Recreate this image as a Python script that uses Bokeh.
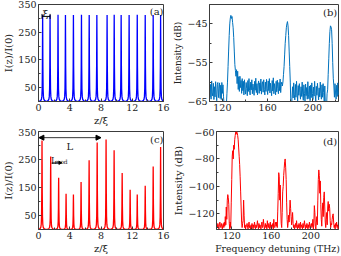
import numpy as np
from bokeh.plotting import figure
from bokeh.layouts import column, row
from bokeh.models import FixedTicker, Label, Arrow, NormalHead, TeeHead, Range1d
from bokeh.embed import file_html
from bokeh.resources import INLINE

# ---------------- data ----------------
# (a) uniform periodic peaks: positions (z/xi) and heights I(z)/I(0)
A_PEAK_Z = [0.53, 1.48, 2.50, 3.45, 4.47, 5.50, 6.49, 7.47,
            8.78, 9.69, 10.58, 11.60, 12.64, 13.66, 14.68, 15.63]
A_PEAK_I = [312, 312, 313, 312, 312, 313, 312, 312,
            312, 313, 312, 312, 313, 312, 312, 312]

# (c) modulated peaks
C_PEAK_Z = [0.45, 1.56, 2.58, 3.53, 4.47, 5.45, 6.48, 7.51,
            8.65, 9.68, 10.71, 11.73, 12.64, 13.66, 14.68, 15.63]
C_PEAK_I = [318, 261, 185, 128, 125, 170, 247, 311,
            321, 283, 202, 142, 125, 156, 225, 295]

# narrow peak line shape (relative offset in z/xi, relative height)
PROFILE_DZ = [-0.6, -0.4, -0.25, -0.15, -0.1, -0.06, -0.03, -0.015, 0.0,
              0.015, 0.03, 0.06, 0.1, 0.15, 0.25, 0.4, 0.6]
PROFILE_FRAC = [0.0017, 0.0039, 0.0099, 0.027, 0.059, 0.148, 0.41, 0.735, 1.0,
                0.735, 0.41, 0.148, 0.059, 0.027, 0.0099, 0.0039, 0.0017]

# (b) measured spectrum, detuning 108 THz .. 223 THz in 0.5 THz steps (dB)
B_START, B_STEP = 108.0, 0.5
B_DB = [
    -62, -59.8, -63.9, -60.6, -64.4, -59.7, -62.8, -63.6, -60.3, -64.5,   # 108
    -61.2, -63.8, -59.9, -63.1, -64.8, -60.6, -60.1, -64, -61.6, -60.2,   # 113
    -64.2, -60.8, -64.5, -60.1, -62.9, -60.7, -63.8, -66, -68.5, -67,     # 118
    -69, -66, -63, -60, -56, -52, -48, -45, -43.5, -42.8,                 # 123
    -43.6, -43.1, -44.6, -46, -48.5, -52, -55.5, -57, -58.5, -56.8,       # 128
    -60.4, -57.2, -61.9, -58.6, -62.4, -58.5, -61.4, -59.6, -62.9, -59.1, # 133
    -62.2, -59.8, -63.3, -59.4, -61.9, -63.1, -60.1, -61.7, -63.5, -59.6, # 138
    -62.4, -59.1, -62.2, -63.3, -60, -62, -59.4, -63, -60.5, -61.8,       # 143
    -63.4, -59.8, -62.1, -59, -62.7, -60.4, -63.3, -60.8, -59.7, -62.9,   # 148
    -60.2, -62.3, -59.2, -63.1, -60.6, -59.9, -62.6, -59.4, -61.9, -63.3, # 153
    -60, -62.4, -59.3, -61.7, -63.2, -59.7, -62.2, -59.1, -62.8, -60.3,   # 158
    -62, -63.5, -59.6, -62.3, -58.9, -63, -60.4, -61.8, -63.3, -59.8,     # 163
    -62.5, -59.5, -61.6, -63, -60.1, -62.2, -59.2, -62.7, -60.6, -60,     # 168
    -61, -60, -58, -56, -53, -50, -48, -46, -45, -44.4,                   # 173
    -45.5, -48, -52, -56, -60, -66, -68, -64, -61.2, -64.1,               # 178
    -60.2, -63.1, -64.6, -60.6, -63.9, -59.8, -62.8, -65, -60.9, -63.4,   # 183
    -60.4, -62.6, -64.4, -61.2, -63.7, -60, -63.3, -64.7, -60.7, -63,     # 188
    -64.9, -60.5, -63.5, -61.4, -64.4, -59.9, -63.1, -64.3, -61, -64.8,   # 193
    -60.8, -64, -60.2, -62.9, -64.5, -61.3, -63.6, -59.8, -63.2, -65,     # 198
    -61.1, -63.4, -60.3, -62.5, -64.6, -61.5, -63.8, -60, -63, -64.4,     # 203
    -60.7, -63.9, -60.4, -62.7, -65, -61, -66, -68, -66.5, -63,           # 208
    -62, -58, -54, -50, -47, -45.5, -45.8, -46.5, -50, -55,               # 213
    -59, -61, -63.9, -60.4, -62.8, -64.4, -60.8, -63.7, -60.2, -63.3,     # 218
    -61.5,                                                                # 223
]

# (d) simulated spectrum, detuning 105 THz .. 228 THz in 0.5 THz steps (dB)
D_START, D_STEP = 105.0, 0.5
D_DB = [
    -128, -130, -127, -129, -131, -128, -126, -129, -130, -127,   # 105
    -129, -131, -128, -127, -130, -126, -129, -122, -128, -115,   # 110
    -124, -110, -106, -108, -113, -127, -131, -126, -130, -112,   # 115
    -95, -78, -74, -80, -70, -73, -66, -63, -60.5, -62,           # 120
    -60, -61, -63, -66, -72, -78, -84, -93, -104, -115,           # 125
    -126, -130, -127, -125, -110, -121, -130, -128, -131, -129,   # 130
    -129, -127, -130, -131, -128, -126, -130, -129, -131, -128,   # 135
    -130, -127, -129, -131, -128, -130, -126, -129, -131, -128,   # 140
    -130, -128, -125, -129, -131, -127, -130, -128, -129, -131,   # 145
    -128, -126, -130, -129, -124, -128, -131, -129, -127, -130,   # 150
    -128, -131, -125, -129, -130, -127, -129, -131, -126, -130,   # 155
    -128, -130, -129, -127, -131, -124, -129, -130, -128, -126,   # 160
    -129, -126, -130, -118, -105, -90, -93, -110, -99, -115,      # 165
    -127, -130, -119, -104, -100, -92, -87, -82, -80, -86,        # 170
    -95, -112, -124, -130, -127, -121, -126, -118, -110, -116,    # 175
    -122, -128, -124, -119, -127, -130, -128, -131, -129, -127,   # 180
    -130, -125, -129, -131, -128, -130, -127, -129, -131, -126,   # 185
    -130, -128, -129, -131, -127, -130, -128, -125, -129, -131,   # 190
    -128, -130, -127, -129, -131, -128, -130, -126, -129, -131,   # 195
    -128, -127, -130, -129, -124, -131, -127, -114, -119, -129,   # 200
    -131, -126, -122, -128, -110, -95, -88, -92, -105, -96,       # 205
    -113, -124, -129, -118, -112, -122, -108, -104, -115, -126,   # 210
    -130, -124, -119, -128, -115, -111, -118, -113, -116, -125,   # 215
    -130, -127, -128, -124, -121, -120, -126, -130, -128, -131,   # 220
    -127, -129, -126, -130, -128, -131, -129,                     # 225
]

Z_TICKS = [0, 4, 8, 12, 16]
I_TICKS = [50, 150, 250, 350]
B_XTICKS = [120, 160, 200]
B_YTICKS = [-65, -55, -45]
D_XTICKS = [120, 160, 200]
D_YTICKS = [-120, -100, -80, -60]

# ---------------- styling helpers ----------------
SERIF = "DejaVu Serif"
FRAME = "#3c3c3c"


def peak_curve(zs, hs):
    xs, ys = [], []
    for z, h in zip(zs, hs):
        for dz, f in zip(PROFILE_DZ, PROFILE_FRAC):
            xs.append(z + dz)
            ys.append(h * f)
    return xs, ys


def style(p, tick_font="9.5px", label_font="10px"):
    p.outline_line_color = FRAME
    p.outline_line_width = 1
    p.background_fill_color = "white"
    p.border_fill_color = "white"
    p.grid.visible = False
    for ax in p.axis:
        ax.axis_line_color = FRAME
        ax.major_tick_line_color = FRAME
        ax.minor_tick_line_color = FRAME
        ax.major_tick_in = 3
        ax.major_tick_out = 0
        ax.minor_tick_in = 2
        ax.minor_tick_out = 0
        ax.major_label_text_font = SERIF
        ax.major_label_text_font_size = tick_font
        ax.major_label_text_color = "#222222"
        ax.major_label_standoff = 2
        ax.axis_label_text_font = SERIF
        ax.axis_label_text_font_size = label_font
        ax.axis_label_text_font_style = "normal"
        ax.axis_label_text_color = "#222222"
        ax.axis_label_standoff = 1


def panel_label(p, x, y, text):
    p.add_layout(Label(x=x, y=y, text=text, text_font=SERIF, text_font_size="10px",
                       text_align="right", text_baseline="top", text_color="#222222"))


# ---------------- (a) ----------------
pa = figure(width=170, height=128, output_backend="svg", toolbar_location=None,
            x_range=Range1d(0, 16), y_range=Range1d(0, 350),
            min_border_left=33, min_border_right=7, min_border_top=4, min_border_bottom=20)
ax_, ay_ = peak_curve(A_PEAK_Z, A_PEAK_I)
pa.line(ax_, ay_, color="#0000FF", line_width=1.3)
pa.xaxis.ticker = FixedTicker(ticks=Z_TICKS, minor_ticks=[2, 6, 10, 14])
pa.yaxis.ticker = FixedTicker(ticks=I_TICKS, minor_ticks=[100, 200, 300])
pa.xaxis.axis_label = "z/ξ"
pa.yaxis.axis_label = "I(z)/I(0)"
style(pa)
pa.add_layout(Arrow(start=TeeHead(size=5, line_color="black", line_width=1),
                    end=TeeHead(size=5, line_color="black", line_width=1),
                    x_start=0.45, x_end=1.48, y_start=307, y_end=307,
                    line_color="black", line_width=1))
pa.add_layout(Label(x=0.9, y=316, text="ξ", text_font=SERIF, text_font_size="10px",
                    text_align="center", text_baseline="alphabetic", text_color="#222222"))
panel_label(pa, 16.0, 343, "(a)")

# ---------------- (b) ----------------
b_x = B_START + B_STEP * np.arange(len(B_DB))
pb = figure(width=171, height=128, output_backend="svg", toolbar_location=None,
            x_range=Range1d(108.6, 222.6), y_range=Range1d(-65, -40),
            min_border_left=35, min_border_right=3, min_border_top=3, min_border_bottom=21)
pb.line(b_x, B_DB, color="#0072BD", line_width=1)
pb.xaxis.ticker = FixedTicker(ticks=B_XTICKS, minor_ticks=[140, 180, 220])
pb.yaxis.ticker = FixedTicker(ticks=B_YTICKS, minor_ticks=[-60, -50, -40])
pb.yaxis.axis_label = "Intensity (dB)"
style(pb, label_font="9px")
panel_label(pb, 221.5, -40.6, "(b)")

# ---------------- (c) ----------------
pc = figure(width=170, height=128, output_backend="svg", toolbar_location=None,
            x_range=Range1d(0, 16), y_range=Range1d(0, 350),
            min_border_left=33, min_border_right=7, min_border_top=3, min_border_bottom=23)
cx_, cy_ = peak_curve(C_PEAK_Z, C_PEAK_I)
pc.line(cx_, cy_, color="#FF0000", line_width=1.3)
pc.xaxis.ticker = FixedTicker(ticks=Z_TICKS, minor_ticks=[2, 6, 10, 14])
pc.yaxis.ticker = FixedTicker(ticks=I_TICKS, minor_ticks=[100, 200, 300])
pc.xaxis.axis_label = "z/ξ"
pc.yaxis.axis_label = "I(z)/I(0)"
style(pc)
pc.add_layout(Arrow(start=NormalHead(size=5, fill_color="black", line_color="black"),
                    end=NormalHead(size=5, fill_color="black", line_color="black"),
                    x_start=0.05, x_end=8.0, y_start=328, y_end=328,
                    line_color="black", line_width=0.8))
pc.add_layout(Label(x=4.0, y=296, text="L", text_font=SERIF, text_font_size="10px",
                    text_align="center", text_baseline="alphabetic", text_color="#222222"))
pc.add_layout(Label(x=1.6, y=246, text="L", text_font=SERIF, text_font_size="8.5px",
                    text_align="left", text_baseline="alphabetic", text_color="#222222"))
pc.add_layout(Label(x=2.05, y=244, text="mod", text_font=SERIF, text_font_size="6px",
                    text_align="left", text_baseline="alphabetic", text_color="#222222"))
pc.add_layout(Arrow(end=NormalHead(size=3, fill_color="black", line_color="black"),
                    x_start=1.69, x_end=2.99, y_start=238, y_end=238,
                    line_color="black", line_width=0.8))
panel_label(pc, 16.0, 341, "(c)")

# ---------------- (d) ----------------
d_x = D_START + D_STEP * np.arange(len(D_DB))
pd_ = figure(width=171, height=128, output_backend="svg", toolbar_location=None,
             x_range=Range1d(104.6, 227.9), y_range=Range1d(-131.4, -60),
             min_border_left=34, min_border_right=3, min_border_top=3, min_border_bottom=21)
pd_.line(d_x, D_DB, color="#FF0000", line_width=1)
pd_.xaxis.ticker = FixedTicker(ticks=D_XTICKS, minor_ticks=[140, 180, 220])
pd_.yaxis.ticker = FixedTicker(ticks=D_YTICKS, minor_ticks=[-130, -110, -90, -70])
pd_.xaxis.axis_label = "Frequency detuning (THz)"
pd_.yaxis.axis_label = "Intensity (dB)"
style(pd_)
pd_.xaxis.axis_label_text_font_size = "9.3px"
panel_label(pd_, 226.5, -63.2, "(d)")

layout = column(row(pa, pb), row(pc, pd_),
                styles={"position": "absolute", "left": "0px", "top": "0px"})

open("out.html", "w").write(file_html(layout, INLINE))
